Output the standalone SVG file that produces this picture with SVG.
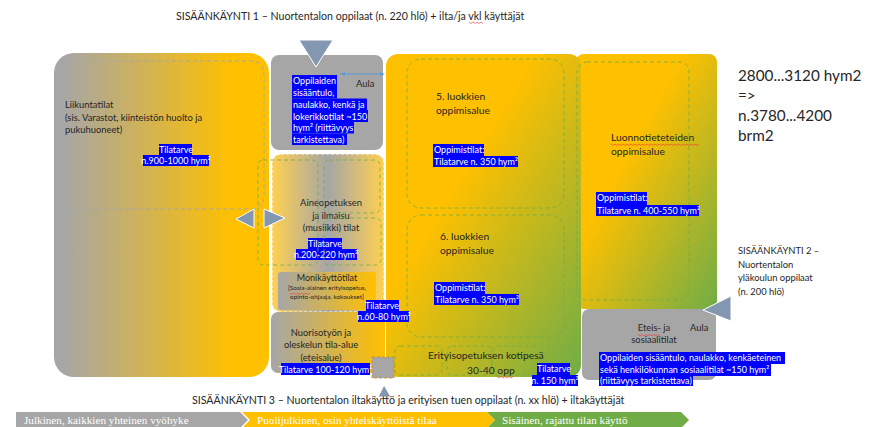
<svg xmlns="http://www.w3.org/2000/svg" width="873" height="427" viewBox="0 0 873 427">
<style>
text{font-family:Lato,"Liberation Sans",sans-serif;font-size:9px;fill:#262626}
.c{text-anchor:middle}
.m{font-size:9.4px}
.l{font-size:10.3px}
.e{font-size:10.6px}
.b{font-size:15.300px}
.f{font-size:6.400px}
.h{fill:#00f}
.w{fill:#fff}
.d{fill:none;stroke:#70AD47;stroke-width:.8;stroke-dasharray:4 3}
.g{fill:none;stroke:#A6A6A6;stroke-width:1;stroke-dasharray:4 3}
.t{fill:#8497B0;stroke:#fff;stroke-width:1}
.s{font-family:"Liberation Serif",serif;font-size:11.200px;fill:#fff}
.z{fill:none;stroke:#e33;stroke-width:.6}
</style>
<defs>
<linearGradient id="lg" x1="0" x2="1" y1="0" y2="0"><stop offset=".04" stop-color="#A6A6A6"/><stop offset=".83" stop-color="#FFC000"/></linearGradient>
<linearGradient id="ng" x1="0" x2="1" y1="0" y2="0"><stop offset="0" stop-color="#A6A6A6"/><stop offset="1" stop-color="#FFC000"/></linearGradient>
<linearGradient id="cg" x1="0" x2="1" y1="0" y2="0"><stop offset="0" stop-color="#FFD050"/><stop offset=".5" stop-color="#A6A6A6"/><stop offset="1" stop-color="#FFD050"/></linearGradient>
<linearGradient id="ma" x1="0" x2="1" y1="0" y2="1"><stop offset=".38" stop-color="#FFC000"/><stop offset="1" stop-color="#70AD47"/></linearGradient>
</defs>
<g id="zone-bar">
<path d="M16 412H240L248 420L240 428H16Z" fill="#A6A6A6"/>
<path d="M242 412H487L495 420L487 428H242L250 420Z" fill="#FFC000"/>
<path d="M487 412H681L689 420L681 428H487L495 420Z" fill="#70AD47"/>
<text class="s" x="24" y="424">Julkinen, kaikkien yhteinen vyöhyke</text>
<text class="s" x="257" y="424">Puolijulkinen, osin yhteiskäyttöistä tilaa</text>
<text class="s" x="502" y="424">Sisäinen, rajattu tilan käyttö</text>
</g>
<g id="node-liikunta">
<rect x="54" y="53" width="215" height="324" rx="20" fill="url(#lg)"/>
<path class="g" d="M60 61H250Q264 61 264 75V195Q264 209 250 209H60"/>
<text class="m" x="65" y="108">Liikuntatilat</text>
<text class="m" x="65" y="121">(sis. Varastot, kiinteistön huolto ja</text>
<text class="m" x="65" y="133">pukuhuoneet)</text>
<rect class="h" x="159" y="144" width="33" height="11"/><rect class="h" x="143" y="155" width="66" height="11"/>
<text class="c w" x="176" y="152.500">Tilatarve</text>
<text class="c w" x="176" y="164">n.900-1000 hym²</text>
</g>
<g id="node-aula1">
<rect x="271" y="55" width="112" height="95" rx="8" fill="#A6A6A6"/>
<rect class="h" x="292" y="75" width="45" height="12"/><rect class="h" x="292" y="87" width="45" height="11.500"/><rect class="h" x="292" y="98.500" width="75" height="11.500"/><rect class="h" x="292" y="110" width="76" height="12"/><rect class="h" x="292" y="122" width="62" height="11.500"/><rect class="h" x="292" y="133.500" width="55" height="11.500"/>
<text class="w" x="293" y="84">Oppilaiden</text>
<text class="w" x="293" y="96">sisääntulo,</text>
<text class="w" x="293" y="108">naulakko, kenkä ja</text>
<text class="w" x="293" y="120">lokerikkotilat ~150</text>
<text class="w" x="293" y="131">hym² (riittävyys</text>
<text class="w" x="293" y="143">tarkistettava)</text>
<text class="m" x="356" y="87">Aula</text>
</g>
<g id="node-aine">
<rect x="272" y="154" width="112" height="158" rx="9" fill="url(#cg)" stroke="#fff" stroke-dasharray="3 2"/>
<text class="c m" x="331" y="206">Aineopetuksen</text>
<text class="c m" x="331" y="219">ja ilmaisu</text>
<text class="c m" x="331" y="231">(musiikki) tilat</text>
<rect class="h" x="308" y="238" width="34" height="11"/><rect class="h" x="296" y="249" width="61" height="11"/>
<text class="c w" x="325" y="246.500">Tilatarve</text>
<text class="c w" x="326" y="258">n.200-220 hym²</text>
<rect class="d" x="258" y="160" width="60" height="105" rx="5"/>
<rect class="d" x="324" y="160" width="56" height="53" rx="5"/>
<rect class="d" x="324" y="218" width="57" height="47" rx="5"/>
</g>
<g id="node-monikaytto">
<rect x="278" y="272" width="98" height="38" rx="3" fill="url(#ng)"/>
<text class="c" x="327" y="281">Monikäyttötilat</text>
<text class="c f" x="327" y="290">[Sosia-alainen erityisopetus,</text>
<text class="c f" x="327" y="299">opinto-ohjaaja, kokoukset]</text>
<path class="z" d="M290 293l2 1.500 2-1.500 2 1.500 2-1.500 2 1.500 2-1.500 2 1.500 2-1.500 2 1.500 2-1.500"/>
</g>
<g id="node-nuoriso">
<rect x="271" y="312" width="114" height="61" rx="7" fill="url(#ng)"/>
<text class="c m" x="321" y="336">Nuorisotyön ja</text>
<text class="c m" x="321" y="348">oleskelun tila-alue</text>
<text class="c m" x="321" y="361">(eteisalue)</text>
<rect class="h" x="281" y="363" width="89" height="12"/>
<text class="c w" x="325.500" y="372.500">Tilatarve 100-120 hym²</text>
</g>
<g id="node-oppimisalueet">
<rect x="576" y="54" width="141" height="255" rx="8" fill="url(#ma)"/>
<rect x="386" y="54" width="195" height="323" rx="12" fill="url(#ma)"/>
<rect class="d" x="407" y="59" width="157" height="149" rx="14"/>
<text class="l" x="436" y="100">5. luokkien</text>
<text class="l" x="436" y="114">oppimisalue</text>
<rect class="h" x="433" y="144" width="51" height="12"/><rect class="h" x="433" y="156" width="85" height="11"/>
<text class="w" x="434" y="153">Oppimistilat:</text>
<text class="w" x="434" y="165">Tilatarve n. 350 hym²</text>
<rect class="d" x="407" y="215" width="157" height="122" rx="14"/>
<text class="l" x="440" y="240">6. luokkien</text>
<text class="l" x="440" y="254">oppimisalue</text>
<rect class="h" x="434" y="282" width="51" height="12"/><rect class="h" x="434" y="294" width="85" height="11"/>
<text class="w" x="435" y="291">Oppimistilat:</text>
<text class="w" x="435" y="303">Tilatarve n. 350 hym²</text>
<rect class="d" x="577" y="62" width="112" height="238" rx="10"/>
<text class="l" x="611" y="141">Luonnotieteteiden</text>
<text class="l" x="611" y="155">oppimisalue</text>
<path class="z" d="M611 144l2 1.500 2-1.500 2 1.500 2-1.500 2 1.500 2-1.500 2 1.500 2-1.500 2 1.500 2-1.500 2 1.500 2-1.500 2 1.500 2-1.500 2 1.500 2-1.500 2 1.500 2-1.500 2 1.500 2-1.500 2 1.500 2-1.500 2 1.500 2-1.500 2 1.500 2-1.500 2 1.500 2-1.500 2 1.500 2-1.500 2 1.500 2-1.500 2 1.500 2-1.500 2 1.500 2-1.500 2 1.500 2-1.500 2 1.500 2-1.500 2 1.500 2-1.500 2 1.500 2-1.500"/>
<rect class="h" x="596" y="192" width="51" height="13"/><rect class="h" x="596" y="205" width="103" height="11"/>
<text class="w" x="597" y="201">Oppimistilat:</text>
<text class="w" x="597" y="214">Tilatarve n. 400-550 hym²</text>
</g>
<g id="node-erityis">
<rect class="d" x="395" y="346" width="47" height="29" rx="5"/>
<rect class="d" x="447" y="346" width="45" height="29" rx="5"/>
<rect class="d" x="492" y="346" width="81" height="29" rx="5"/>
<text class="l" x="428" y="359">Erityisopetuksen kotipesä</text>
<text class="l" x="467" y="374">30-40 opp</text>
<path class="z" d="M497 376.500l2 1.500 2-1.500 2 1.500 2-1.500 2 1.500 2-1.500 2 1.500 2-1.500"/>
<rect class="h" x="537" y="363" width="33" height="12"/><rect class="h" x="532" y="375" width="46" height="11"/>
<text class="c w" x="554" y="372">Tilatarve</text>
<text class="c w" x="555" y="384">n. 150 hym²</text>
</g>
<g id="node-aula2">
<rect x="582" y="309" width="134" height="71" rx="7" fill="#A6A6A6"/>
<text class="c m" x="654" y="331">Eteis- ja</text>
<text class="c m" x="654" y="343">sosiaalitilat</text>
<path class="z" d="M638 334.500l2 1.500 2-1.500 2 1.500 2-1.500 2 1.500 2-1.500 2 1.500 2-1.500 2 1.500 2-1.500 2 1.500"/>
<text class="m" x="690" y="331">Aula</text>
<rect class="h" x="599" y="352" width="186" height="12"/><rect class="h" x="599" y="364" width="172" height="12"/><rect class="h" x="599" y="376" width="94" height="10"/>
<text class="w" x="600" y="361">Oppilaiden sisääntulo, naulakko, kenkäeteinen</text>
<text class="w" x="600" y="373">sekä henkilökunnan sosiaalitilat ~150 hym²</text>
<text class="w" x="600" y="384">(riittävyys tarkistettava)</text>
</g>
<g id="node-pieni">
<rect x="372" y="357" width="22" height="21" fill="#A6A6A6" stroke="#C09020" stroke-width=".8" stroke-dasharray="3 2"/>
</g>
<g id="node-monikaytto-tilatarve">
<rect x="358" y="311" width="51" height="11" class="h"/><rect x="366" y="300" width="33" height="11" class="h"/>
<text class="c w" x="382" y="309">Tilatarve</text>
<text class="c w" x="384" y="320">n.60-80 hym²</text>
</g>
<g id="connectors">
<path class="t" d="M299 40H333L316 67Z"/>
<path class="t" d="M236 219L254 209V228Z"/>
<path class="t" d="M264 209V228L285 218Z"/>
<path class="t" d="M378 397L384 385L391 397Z"/>
<path class="t" d="M703 310L731 296V321Z"/>
<path d="M342 74H383" stroke="#5B9BD5" stroke-width="1"/>
<path d="M340 74L345 72V76ZM385 74L380 72V76Z" fill="#5B9BD5"/>
</g>
<g id="labels">
<text class="e" x="176" y="20">SISÄÄNKÄYNTI 1 – Nuortentalon oppilaat (n. 220 hlö) + ilta/ja vkl käyttäjät</text>
<path class="z" d="M469 22l2 1.500 2-1.500 2 1.500 2-1.500 2 1.500 2-1.500 2 1.500"/>
<text class="e" x="192" y="404">SISÄÄNKÄYNTI 3 – Nuortentalon iltakäyttö ja erityisen tuen oppilaat (n. xx hlö) +  iltakäyttäjät</text>
<text class="m" x="738" y="254">SISÄÄNKÄYNTI 2 –</text>
<text class="m" x="738" y="268">Nuortentalon</text>
<text class="m" x="738" y="281">yläkoulun oppilaat</text>
<text class="m" x="738" y="295">(n. 200 hlö)</text>
<text class="b" x="738" y="81">2800...3120 hym2</text>
<text class="b" x="738" y="101">=&gt;</text>
<text class="b" x="738" y="121">n.3780...4200</text>
<text class="b" x="738" y="141">brm2</text>
</g>
</svg>
